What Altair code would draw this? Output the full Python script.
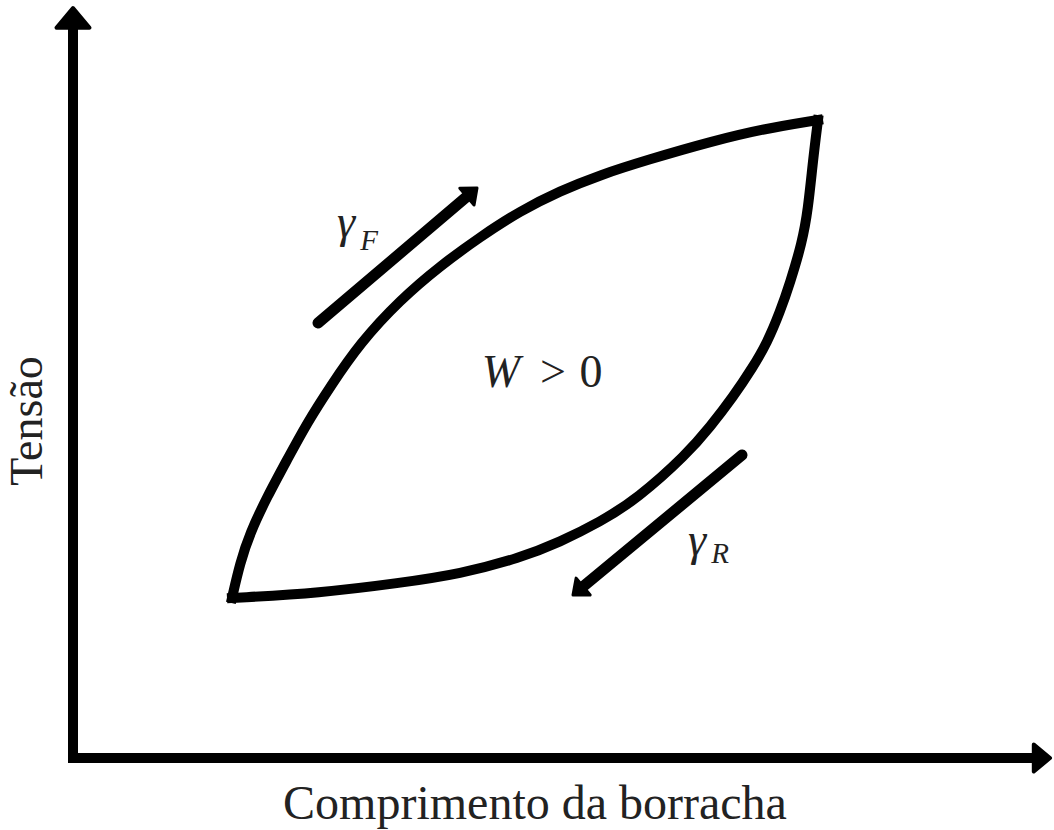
import math

import altair as alt
import pandas as pd

# Canvas / coordinate extent (abstract units: length along x, tension along y)
W, H = 1054, 830

# Hysteresis loop of the rubber band: loading branch (gamma_F) and unloading branch (gamma_R)
forward_x = [232, 240, 250, 267, 287, 307, 330, 360, 400, 440, 480, 520, 560, 600, 647, 713, 763, 818]
forward_y = [232, 267, 297, 333, 370, 407, 443, 487, 530, 564, 593, 619, 639, 655, 670, 689, 701, 710]
return_x = [232, 320, 400, 460, 520, 560, 600, 637, 687, 710, 733, 753, 767, 780, 790, 802, 808, 813, 818]
return_y = [232, 237, 247, 256, 272, 288, 308, 331, 376, 403, 433, 463, 487, 518, 547, 587, 620, 670, 710]

# Coordinate axes (shaft start, shaft end, arrow tip)
axis_names = ["Tensão", "Comprimento"]
axis_start_x = [73, 73]
axis_start_y = [72, 72]
axis_end_x = [73, 1035]
axis_end_y = [800, 72]
axis_tip_x = [73, 1050]
axis_tip_y = [822, 72]

# Direction arrows along each branch (tail -> tip)
dir_names = ["gamma_F", "gamma_R"]
dir_tail_x = [318, 742]
dir_tail_y = [507, 375]
dir_tip_x = [477, 573]
dir_tip_y = [642, 235]

# Labels
w_text, w_x, w_y = ["W"], [501], [443]
gamma_text = ["γ", "γ"]
gamma_x = [346, 697]
gamma_y = [593, 275]
sub_text = ["F", "R"]
sub_x = [369, 720]
sub_y = [580, 267]
upright_text = [">", "0"]
upright_x = [553, 591]
upright_y = [443, 443]
xlabel = "Comprimento da borracha"
ylabel = "Tensão"

# Arrowhead glyph: tip at the symbol origin, pointing up before rotation
HEAD = "M0,0L1,1.2L-1,1.2Z"

X = alt.X("x:Q", scale=alt.Scale(domain=[0, W]), axis=None)
Y = alt.Y("y:Q", scale=alt.Scale(domain=[0, H]), axis=None)


def heading(x0, y0, x1, y1):
    """Clockwise angle from 'up' of the direction (x0,y0)->(x1,y1), y pointing up."""
    a = math.degrees(math.atan2(x1 - x0, y1 - y0))
    return a % 360


# ---- axes ----
axes_df = pd.DataFrame({
    "name": axis_names,
    "x": axis_start_x, "y": axis_start_y,
    "x2": axis_end_x, "y2": axis_end_y,
})
axis_shafts = alt.Chart(axes_df).mark_rule(
    color="black", strokeWidth=10, strokeCap="square"
).encode(x=X, y=Y, x2="x2:Q", y2="y2:Q")

heads_axes = []
for i, size in zip(range(2), [1089, 729]):
    df = pd.DataFrame({
        "x": [axis_tip_x[i]], "y": [axis_tip_y[i]],
        "angle": [heading(axis_start_x[i], axis_start_y[i], axis_tip_x[i], axis_tip_y[i])],
    })
    heads_axes.append(
        alt.Chart(df).mark_point(
            shape=HEAD, filled=True, size=size, color="black", stroke="black",
            strokeWidth=4, strokeJoin="round", opacity=1,
        ).encode(x=X, y=Y, angle=alt.Angle("angle:Q", scale=None))
    )

# ---- loop ----
loop_df = pd.concat([
    pd.DataFrame({"x": forward_x, "y": forward_y, "branch": "F",
                  "k": range(len(forward_x))}),
    pd.DataFrame({"x": return_x, "y": return_y, "branch": "R",
                  "k": range(len(return_x))}),
])
loop = alt.Chart(loop_df).mark_line(
    color="black", strokeWidth=10, interpolate="basis",
    strokeCap="square", strokeJoin="round",
).encode(x=X, y=Y, detail="branch:N", order="k:Q")

# ---- direction arrows ----
shaft_rows = []
head_rows = []
for n, tx, ty, px, py in zip(dir_names, dir_tail_x, dir_tail_y, dir_tip_x, dir_tip_y):
    L = math.hypot(px - tx, py - ty)
    ux, uy = (px - tx) / L, (py - ty) / L
    shaft_rows.append({"name": n, "x": tx, "y": ty,
                       "x2": px - 14 * ux, "y2": py - 14 * uy})
    head_rows.append({"name": n, "x": px, "y": py,
                      "angle": heading(tx, ty, px, py)})

dir_shafts = alt.Chart(pd.DataFrame(shaft_rows)).mark_rule(
    color="black", strokeWidth=11, strokeCap="round"
).encode(x=X, y=Y, x2="x2:Q", y2="y2:Q")
dir_heads = alt.Chart(pd.DataFrame(head_rows)).mark_point(
    shape=HEAD, filled=True, size=484, color="black", stroke="black",
    strokeWidth=3, strokeJoin="round", opacity=1,
).encode(x=X, y=Y, angle=alt.Angle("angle:Q", scale=None))

# ---- text ----
FONT = "Liberation Serif"
INK = "#222222"


def label_layer(texts, xs, ys, **style):
    df = pd.DataFrame({"t": texts, "x": xs, "y": ys})
    return alt.Chart(df).mark_text(
        font=FONT, color=INK, align="center", baseline="alphabetic", **style
    ).encode(x=X, y=Y, text="t:N")


w_label = label_layer(w_text, w_x, w_y, fontSize=46, fontStyle="italic")
gammas = label_layer(gamma_text, gamma_x, gamma_y, fontSize=46, fontStyle="italic")
subs = label_layer(sub_text, sub_x, sub_y, fontSize=29, fontStyle="italic")
upright = label_layer(upright_text, upright_x, upright_y, fontSize=46)
xtitle = label_layer([xlabel], [535], [11], fontSize=48)
ytitle = label_layer([ylabel], [42], [409], fontSize=46, angle=270)

chart = alt.layer(
    axis_shafts, *heads_axes, loop, dir_shafts, dir_heads,
    w_label, gammas, subs, upright, xtitle, ytitle,
).properties(
    width=W, height=H, padding=0, autosize=alt.AutoSizeParams(type="none"),
    background="white",
).configure_view(stroke=None)

chart.save("out.html", embed_options={"renderer": "svg", "actions": False})
